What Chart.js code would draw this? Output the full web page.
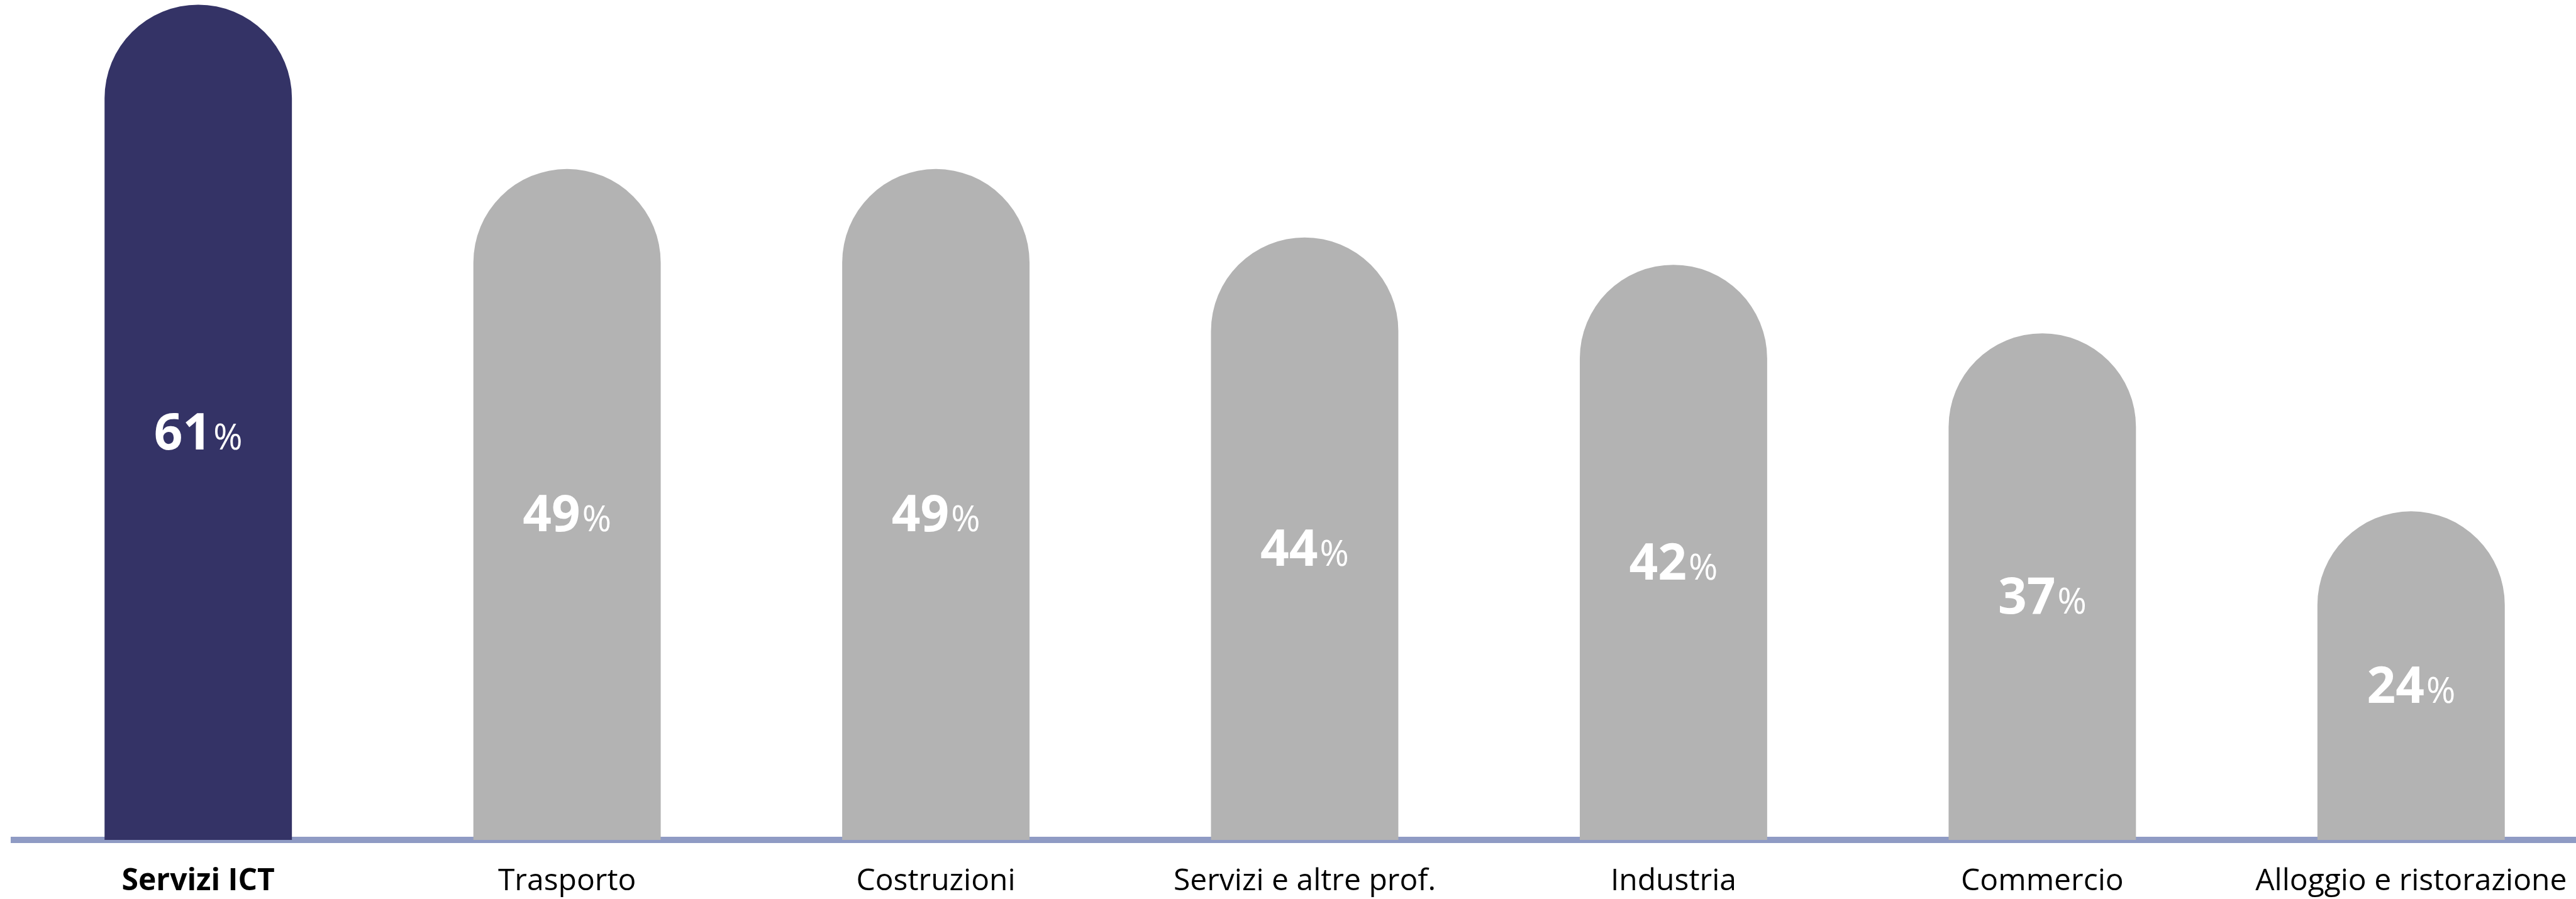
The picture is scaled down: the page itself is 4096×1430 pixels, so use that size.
<!DOCTYPE html>
<html lang="it">
<head>
    <meta charset="utf-8">
    <title>Settori</title>
    <script src="https://cdn.jsdelivr.net/npm/chart.js"></script>
    <style>
        html, body {
            margin: 0;
            padding: 0;
            overflow: hidden;
            background: #fff;
        }
        #wrap {
            width: 4127px;
            height: 1430px;
        }
    </style>
</head>
<body>
<div id="wrap">
    <canvas id="settoriChart" width="4127" height="1430"></canvas>
</div>

<script>
    // dati
    var settori = ['Servizi ICT', 'Trasporto', 'Costruzioni', 'Servizi e altre prof.', 'Industria', 'Commercio', 'Alloggio e ristorazione'];
    var quote = [61, 49, 49, 44, 42, 37, 24];

    var BLU = '#343366';
    var GRIGIO = '#b3b3b3';
    var ASSE = '#8f9bc4';

    Chart.defaults.font.family = '"Open Sans", "DejaVu Sans", sans-serif';

    // percentuali bianche al centro delle barre
    var etichette = {
        id: 'etichette',
        afterDatasetsDraw: function (chart) {
            var ctx = chart.ctx;
            var meta = chart.getDatasetMeta(0);
            ctx.save();
            ctx.fillStyle = '#ffffff';
            ctx.textBaseline = 'alphabetic';
            ctx.textAlign = 'left';
            meta.data.forEach(function (bar, i) {
                var num = String(quote[i]);
                var mid = (bar.y + bar.base) / 2;
                var baseline = mid + 43;
                ctx.font = 'bold 80px "Open Sans"';
                var wNum = ctx.measureText(num).width;
                ctx.font = '500 56px "Open Sans"';
                var wPct = ctx.measureText('%').width;
                var gap = 3;
                var x0 = bar.x - (wNum + gap + wPct) / 2;
                ctx.font = 'bold 80px "Open Sans"';
                ctx.fillText(num, x0, baseline);
                ctx.font = '500 56px "Open Sans"';
                ctx.fillText('%', x0 + wNum + gap, baseline);
            });
            ctx.restore();
        }
    };

    var chart = new Chart(document.getElementById('settoriChart').getContext('2d'), {
        type: 'bar',
        data: {
            labels: settori,
            datasets: [{
                data: quote,
                backgroundColor: function (c) {
                    return c.dataIndex === 0 ? BLU : GRIGIO;
                },
                borderWidth: 0,
                borderRadius: { topLeft: 400, topRight: 400, bottomLeft: 0, bottomRight: 0 },
                borderSkipped: 'start',
                categoryPercentage: 1,
                barPercentage: 0.508
            }]
        },
        options: {
            responsive: false,
            animation: false,
            devicePixelRatio: 1,
            layout: {
                padding: { left: 22, right: 0, top: 0, bottom: 0 }
            },
            plugins: {
                legend: { display: false },
                tooltip: { enabled: false },
                title: { display: false }
            },
            scales: {
                x: {
                    offset: true,
                    grid: { display: false, drawTicks: false },
                    border: { display: true, color: ASSE, width: 10 },
                    afterFit: function (scale) {
                        scale.height = 94;
                    },
                    ticks: {
                        autoSkip: false,
                        maxRotation: 0,
                        minRotation: 0,
                        padding: 38,
                        color: '#000000',
                        font: function (c) {
                            return {
                                size: 48,
                                lineHeight: 1.2,
                                weight: c.index === 0 ? 'bold' : 'normal'
                            };
                        }
                    }
                },
                y: {
                    display: false,
                    min: 0,
                    max: 61.34
                }
            }
        },
        plugins: [etichette]
    });
</script>
</body>
</html>
